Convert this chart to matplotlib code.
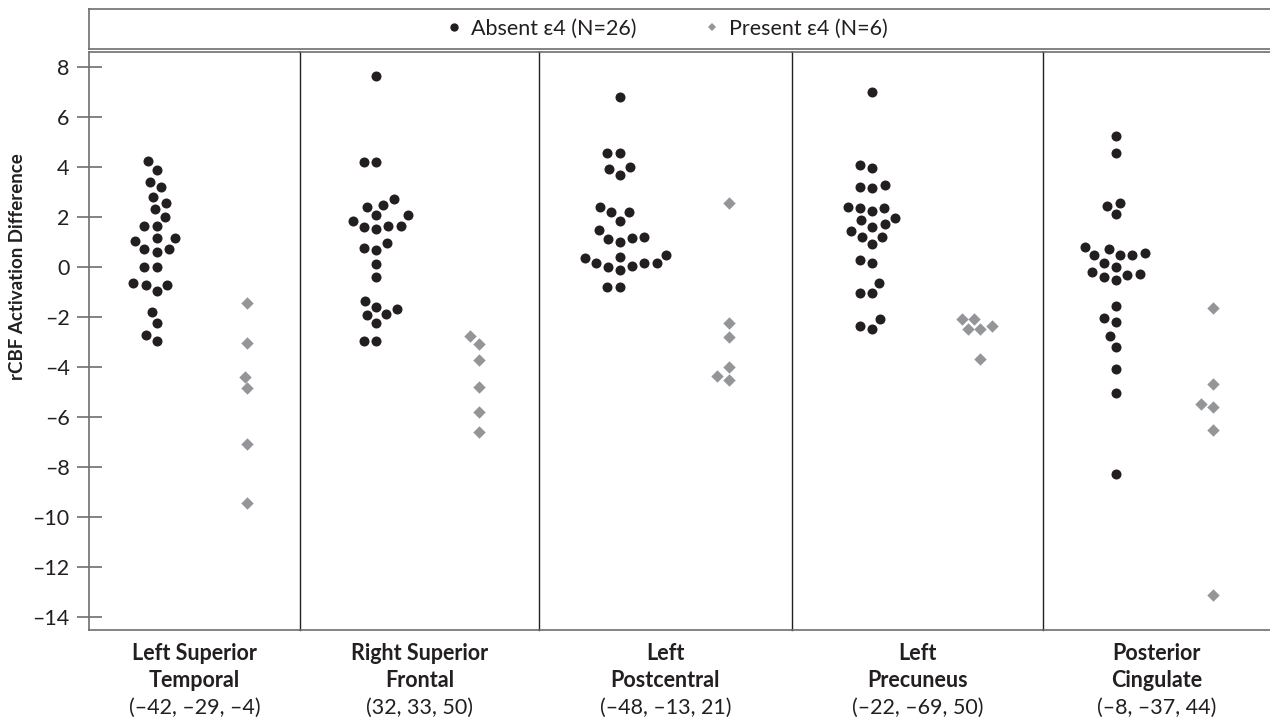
import numpy as np
import matplotlib.pyplot as plt
from matplotlib.lines import Line2D

plt.rcParams["font.family"] = ["Lato", "DejaVu Sans"]

W, H, DPI = 1270, 717, 100

regions = ["Left Superior\nTemporal", "Right Superior\nFrontal", "Left\nPostcentral",
           "Left\nPrecuneus", "Posterior\nCingulate"]
mni = ["(\u201342, \u201329, \u20134)", "(32, 33, 50)", "(\u201348, \u201313, 21)",
       "(\u201322, \u201369, 50)", "(\u20138, \u201337, 44)"]

# rCBF activation difference, one value per subject
lst_absent = [4.23, 3.87, 3.40, 3.17, 2.80, 2.56, 2.31, 2.00, 1.63, 1.63, 1.13, 1.13, 1.04,
              0.69, 0.69, 0.57, -0.03, -0.03, -0.73, -0.73, -0.64, -0.97, -1.80, -2.27, -2.73, -2.97]
lst_present = [-1.44, -3.07, -4.40, -4.87, -7.09, -9.44]

rsf_absent = [7.64, 4.19, 4.19, 2.71, 2.47, 2.37, 2.05, 2.05, 1.83, 1.63, 1.63, 1.60, 1.49,
              0.96, 0.67, 0.76, 0.12, -0.43, -1.39, -1.60, -1.69, -1.91, -1.93, -2.24, -2.99, -2.99]
rsf_present = [-2.77, -3.09, -3.73, -4.80, -5.80, -6.63]

lpc_absent = [6.80, 4.53, 4.53, 3.92, 3.97, 3.68, 2.40, 2.17, 2.17, 1.83, 1.47, 1.20, 1.13,
              1.11, 1.00, 0.37, 0.45, 0.35, 0.13, 0.13, 0.04, -0.13, 0.13, 0.00, -0.83, -0.80]
lpc_present = [2.53, -2.24, -2.80, -4.03, -4.37, -4.53]

lpr_absent = [6.97, 3.93, 4.07, 3.16, 3.27, 3.17, 2.40, 2.36, 2.36, 2.23, 1.96, 1.85, 1.69,
              1.60, 1.44, 1.19, 1.19, 0.89, 0.27, 0.13, -0.64, -1.07, -1.07, -2.11, -2.51, -2.36]
lpr_present = [-2.09, -2.09, -2.51, -2.51, -2.37, -3.69]

pcg_absent = [5.23, 4.53, 2.56, 2.44, 2.09, 0.80, 0.69, 0.56, 0.47, 0.47, 0.47, 0.16, 0.00,
              -0.23, -0.33, -0.29, -0.41, -0.53, -1.56, -2.20, -2.05, -2.76, -3.20, -4.11, -5.07, -8.28]
pcg_present = [-1.64, -4.71, -5.60, -5.51, -6.53, -13.13]

absent = [lst_absent, rsf_absent, lpc_absent, lpr_absent, pcg_absent]
present = [lst_present, rsf_present, lpc_present, lpr_present, pcg_present]

BLACK = "#231f20"
GREY = "#939598"
FRAME = "#6d6e71"

# panel edges in pixels (panels are not equal width in the original)
edges = [89, 300, 539, 792, 1043, 1270]
top_px, bot_px = 52, 630
ylim = (-14.53, 8.59)
px_per_unit = (bot_px - top_px) / (ylim[1] - ylim[0])


def swarm(vals, d):
    # simple beeswarm: put each point as close to the centre as it can go
    vals = np.asarray(vals) * px_per_unit
    out = np.zeros(len(vals))
    placed = []
    for i in np.argsort(vals):
        y = vals[i]
        near = [(px, py) for px, py in placed if abs(py - y) < d]
        cands = [0.0]
        for px, py in near:
            dx = np.sqrt(d ** 2 - (py - y) ** 2)
            cands += [px - dx, px + dx]
        cands.sort(key=abs)
        for c in cands:
            if all((c - px) ** 2 + (y - py) ** 2 >= d ** 2 - 1e-6 for px, py in near):
                break
        out[i] = c
        placed.append((c, y))
    return out


fig = plt.figure(figsize=(W / DPI, H / DPI), dpi=DPI)

for k in range(5):
    x0, x1 = edges[k], edges[k + 1]
    ax = fig.add_axes([x0 / W, 1 - bot_px / H, (x1 - x0) / W, (bot_px - top_px) / H])
    ax.set_xlim(0, 1)
    ax.set_ylim(*ylim)
    wpx = x1 - x0
    xa = 0.32 + swarm(absent[k], 12.5) / wpx
    xp = 0.75 + swarm(present[k], 12.0) / wpx
    ax.scatter(xa, absent[k], s=52, marker="o", color=BLACK, linewidths=0, zorder=3)
    ax.scatter(xp, present[k], s=40, marker="D", color=GREY, linewidths=0, zorder=3)

    ax.set_xticks([])
    for side in ["top", "bottom"]:
        ax.spines[side].set_color(FRAME)
        ax.spines[side].set_linewidth(1.2)
    ax.spines["left"].set_color(BLACK if k > 0 else FRAME)
    ax.spines["left"].set_linewidth(1.0 if k > 0 else 1.2)
    ax.spines["right"].set_visible(False)

    if k == 0:
        ticks = np.arange(-14, 9, 2)
        ax.set_yticks(ticks, labels=[str(t).replace("-", "\u2013") for t in ticks])
        ax.tick_params(axis="y", direction="inout", length=18, width=1.2, color=FRAME,
                       labelsize=15.5, labelcolor=BLACK, pad=5)
    else:
        ax.set_yticks([])

    xc = (x0 + x1) / 2 / W
    lines = regions[k].split("\n") + [mni[k]]
    for j, line in enumerate(lines):
        fig.text(xc, 1 - (660 + 27 * j) / H, line, ha="center", va="baseline",
                 fontsize=15.5, color=BLACK, fontweight="bold" if j < 2 else "normal")

fig.text(18 / W, 1 - 267 / H, "rCBF Activation Difference", rotation=90,
         ha="center", va="center", fontsize=13.5, fontweight="bold", color=BLACK)

# legend strip above the panels
lax = fig.add_axes([89 / W, 1 - 49 / H, (1270 - 89) / W, 40 / H])
lax.set_xticks([])
lax.set_yticks([])
for side in ["top", "bottom", "left"]:
    lax.spines[side].set_color(FRAME)
    lax.spines[side].set_linewidth(1.2)
lax.spines["right"].set_visible(False)
handles = [
    Line2D([], [], linestyle="none", marker="o", markersize=6, color=BLACK, markeredgewidth=0),
    Line2D([], [], linestyle="none", marker="D", markersize=4.5, color=GREY, markeredgewidth=0),
]
lax.legend(handles, ["Absent \u03b54 (N=26)", "Present \u03b54 (N=6)"], loc="center",
           bbox_to_anchor=(0.49, 0.5), ncol=2, frameon=False, fontsize=15.5,
           handlelength=0.6, handletextpad=0.5, columnspacing=3.2, labelcolor=BLACK)

fig.savefig("out.png", dpi=DPI)
